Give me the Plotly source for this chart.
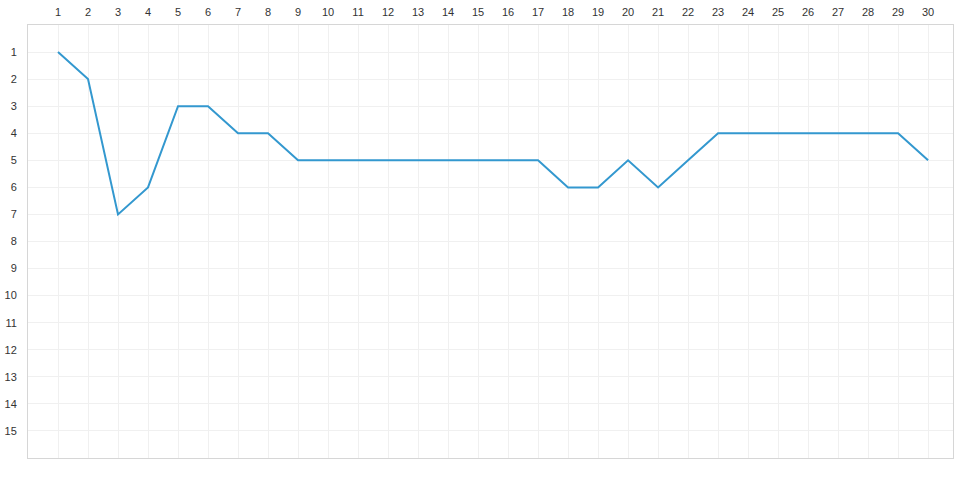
import plotly.graph_objects as go

days = list(range(1, 31))
ranks = [1, 2, 7, 6, 3, 3, 4, 4, 5, 5, 5, 5, 5, 5, 5, 5, 5, 6, 6, 5, 6, 5, 4, 4, 4, 4, 4, 4, 4, 5]
x_ticks = list(range(1, 31))
y_ticks = list(range(1, 16))

fig = go.Figure()
fig.add_trace(go.Scatter(x=days, y=ranks, mode="lines",
                         line=dict(color="#3398cf", width=2), hoverinfo="x+y"))

fig.update_layout(
    width=980, height=490,
    margin=dict(l=28, r=27, t=25, b=32),
    paper_bgcolor="white", plot_bgcolor="white",
    showlegend=False,
    font=dict(family="Liberation Sans, Arial, sans-serif", size=11, color="#333333"),
)
fig.update_xaxes(
    side="top", range=[0, 30.83], tickmode="array", tickvals=x_ticks,
    ticktext=[str(v) for v in x_ticks], automargin=False,
    showgrid=True, gridcolor="#f0f0f0", gridwidth=1,
    showline=True, linecolor="#d6d6d6", linewidth=1, mirror=True,
    zeroline=False, ticks="", ticklabelstandoff=4,
)
fig.update_yaxes(
    range=[16, 0], tickmode="array", tickvals=y_ticks,
    ticktext=[str(v) for v in y_ticks], automargin=False,
    showgrid=True, gridcolor="#f0f0f0", gridwidth=1,
    showline=True, linecolor="#d6d6d6", linewidth=1, mirror=True,
    zeroline=False, ticks="", ticklabelstandoff=8,
)
fig.write_html(
    "out.html",
    config={"displayModeBar": False},
    post_script="document.body.style.margin='0';document.body.style.overflow='hidden';",
)
